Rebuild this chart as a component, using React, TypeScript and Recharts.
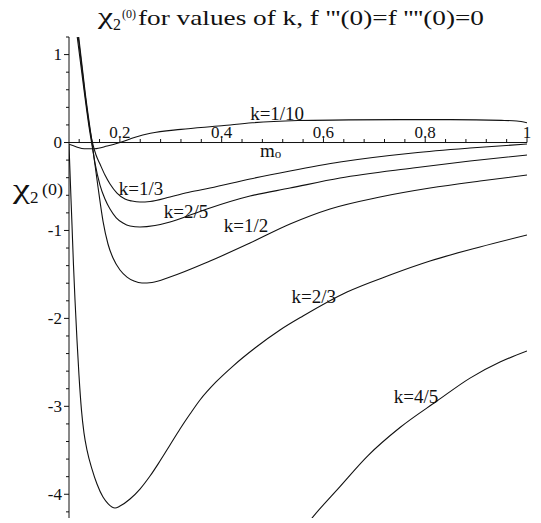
import { LineChart, Line, XAxis, YAxis, ReferenceLine, ReferenceDot } from "recharts";

type Pt = { m: number; y: number };

// chi_2(0) against m0, one list per value of k
const kTenth: Pt[] = [
  { m: 0.1, y: -0.02 }, { m: 0.115, y: -0.05 }, { m: 0.13, y: -0.07 }, { m: 0.15, y: -0.07 },
  { m: 0.175, y: -0.04 }, { m: 0.2, y: 0 }, { m: 0.23, y: 0.06 }, { m: 0.26, y: 0.105 },
  { m: 0.32, y: 0.15 }, { m: 0.4, y: 0.19 }, { m: 0.46, y: 0.225 }, { m: 0.55, y: 0.25 },
  { m: 0.65, y: 0.258 }, { m: 0.75, y: 0.26 }, { m: 0.85, y: 0.26 }, { m: 0.95, y: 0.252 },
  { m: 0.98, y: 0.245 }, { m: 1, y: 0.225 },
];

const kThird: Pt[] = [
  { m: 0.1167, y: 1.268 }, { m: 0.1305, y: 0.597 }, { m: 0.1413, y: 0.142 }, { m: 0.1472, y: -0.028 },
  { m: 0.1531, y: -0.142 }, { m: 0.1609, y: -0.245 }, { m: 0.1707, y: -0.37 }, { m: 0.1806, y: -0.472 },
  { m: 0.1943, y: -0.575 }, { m: 0.21, y: -0.643 }, { m: 0.2238, y: -0.666 }, { m: 0.2395, y: -0.677 },
  { m: 0.2592, y: -0.671 }, { m: 0.2985, y: -0.62 }, { m: 0.3378, y: -0.563 }, { m: 0.3771, y: -0.518 },
  { m: 0.4557, y: -0.415 }, { m: 0.5343, y: -0.324 }, { m: 0.6326, y: -0.222 }, { m: 0.776, y: -0.119 },
  { m: 0.888, y: -0.063 }, { m: 1, y: -0.017 },
];

const kTwoFifths: Pt[] = [
  { m: 0.1147, y: 1.268 }, { m: 0.1295, y: 0.597 }, { m: 0.1403, y: 0.142 }, { m: 0.1462, y: -0.063 },
  { m: 0.1511, y: -0.233 }, { m: 0.1609, y: -0.484 }, { m: 0.1707, y: -0.643 }, { m: 0.1806, y: -0.757 },
  { m: 0.1924, y: -0.853 }, { m: 0.2061, y: -0.916 }, { m: 0.2199, y: -0.95 }, { m: 0.2395, y: -0.961 },
  { m: 0.269, y: -0.944 }, { m: 0.2985, y: -0.904 }, { m: 0.3378, y: -0.825 }, { m: 0.3771, y: -0.745 },
  { m: 0.4557, y: -0.609 }, { m: 0.5343, y: -0.518 }, { m: 0.6326, y: -0.404 }, { m: 0.776, y: -0.29 },
  { m: 0.888, y: -0.21 }, { m: 1, y: -0.142 },
];

const kHalf: Pt[] = [
  { m: 0.1177, y: 1.268 }, { m: 0.1324, y: 0.54 }, { m: 0.1452, y: 0 }, { m: 0.157, y: -0.506 },
  { m: 0.1668, y: -0.893 }, { m: 0.1766, y: -1.154 }, { m: 0.1865, y: -1.314 }, { m: 0.2002, y: -1.45 },
  { m: 0.214, y: -1.53 }, { m: 0.2277, y: -1.575 }, { m: 0.2434, y: -1.598 }, { m: 0.2631, y: -1.592 },
  { m: 0.2985, y: -1.53 }, { m: 0.3771, y: -1.348 }, { m: 0.4557, y: -1.143 }, { m: 0.5343, y: -0.927 },
  { m: 0.6129, y: -0.756 }, { m: 0.7111, y: -0.62 }, { m: 0.8094, y: -0.518 }, { m: 0.9076, y: -0.438 },
  { m: 1, y: -0.37 },
];

const kTwoThirds: Pt[] = [
  { m: 0.1, y: -0.028 }, { m: 0.1029, y: -0.483 }, { m: 0.1059, y: -0.939 }, { m: 0.1088, y: -1.394 },
  { m: 0.1118, y: -1.792 }, { m: 0.1157, y: -2.247 }, { m: 0.1196, y: -2.645 }, { m: 0.1245, y: -3.043 },
  { m: 0.1295, y: -3.305 }, { m: 0.1354, y: -3.498 }, { m: 0.1452, y: -3.714 }, { m: 0.155, y: -3.884 },
  { m: 0.1668, y: -4.032 }, { m: 0.1766, y: -4.106 }, { m: 0.1904, y: -4.157 }, { m: 0.2002, y: -4.134 },
  { m: 0.2199, y: -4.054 }, { m: 0.2395, y: -3.941 }, { m: 0.2592, y: -3.793 }, { m: 0.2788, y: -3.622 },
  { m: 0.2985, y: -3.44 }, { m: 0.3181, y: -3.258 }, { m: 0.3378, y: -3.088 }, { m: 0.3574, y: -2.928 },
  { m: 0.3889, y: -2.723 }, { m: 0.4223, y: -2.542 }, { m: 0.4655, y: -2.337 }, { m: 0.5146, y: -2.132 },
  { m: 0.5598, y: -1.973 }, { m: 0.6463, y: -1.7 }, { m: 0.7308, y: -1.507 }, { m: 0.8094, y: -1.348 },
  { m: 0.9076, y: -1.188 }, { m: 1, y: -1.052 },
];

const kFourFifths: Pt[] = [
  { m: 0.55, y: -4.48 }, { m: 0.5769, y: -4.275 }, { m: 0.6325, y: -3.912 }, { m: 0.6876, y: -3.56 },
  { m: 0.7504, y: -3.241 }, { m: 0.8231, y: -2.94 }, { m: 0.888, y: -2.679 }, { m: 0.9469, y: -2.497 },
  { m: 1, y: -2.37 },
];

const series = [
  { name: "k=1/10", data: kTenth },
  { name: "k=1/3", data: kThird },
  { name: "k=2/5", data: kTwoFifths },
  { name: "k=1/2", data: kHalf },
  { name: "k=2/3", data: kTwoThirds },
  { name: "k=4/5", data: kFourFifths },
];

const xMajorTicks = [0.2, 0.4, 0.6, 0.8, 1];
const xMinorTicks = [
  0.12, 0.16, 0.24, 0.28, 0.32, 0.36, 0.44, 0.48, 0.52, 0.56,
  0.64, 0.68, 0.72, 0.76, 0.84, 0.88, 0.92, 0.96,
];
const yTicks = [
  -4.2, -4, -3.8, -3.6, -3.4, -3.2, -3, -2.8, -2.6, -2.4, -2.2, -2, -1.8, -1.6,
  -1.4, -1.2, -1, -0.8, -0.6, -0.4, -0.2, 0, 0.2, 0.4, 0.6, 0.8, 1, 1.2,
];

// where the k= captions sit, in data units
const curveLabels = [
  { text: "k=1/10", m: 0.509, y: 0.256 },
  { text: "k=1/3", m: 0.2415, y: -0.597 },
  { text: "k=2/5", m: 0.33, y: -0.859 },
  { text: "k=1/2", m: 0.448, y: -1.018 },
  { text: "k=2/3", m: 0.581, y: -1.826 },
  { text: "k=4/5", m: 0.782, y: -2.96 },
];

const SERIF = '"Liberation Serif", "Times New Roman", serif';
const INK = "#111";

function YTick({ x, y, payload }: any) {
  const major = Number.isInteger(payload.value);
  return (
    <g>
      <line x1={x - (major ? 5 : 3)} y1={y} x2={x} y2={y} stroke={INK} />
      {major && (
        <text x={x - 7} y={y} dy="0.34em" textAnchor="end" fontSize={17} fontFamily={SERIF} fill={INK}>
          {payload.value}
        </text>
      )}
    </g>
  );
}

export default function App() {
  return (
    <div style={{ position: "absolute", left: 0, top: 0, width: 541, height: 523, background: "#fff" }}>
      <LineChart width={541} height={523} margin={{ top: 37, right: 14, bottom: 5, left: 0 }}>
        <XAxis type="number" dataKey="m" domain={[0.1, 1]} allowDataOverflow hide />
        <YAxis
          type="number"
          domain={[-4.27, 1.2]}
          ticks={yTicks}
          interval={0}
          allowDataOverflow
          width={69}
          tickSize={0}
          tickMargin={0}
          tickLine={false}
          axisLine={{ stroke: INK }}
          tick={<YTick />}
        />

        {/* Maple-style horizontal axis through y = 0 */}
        <ReferenceLine y={0} stroke={INK} />
        {xMinorTicks.map((t) => (
          <ReferenceLine key={`mn${t}`} segment={[{ x: t, y: 0 }, { x: t, y: 0.04 }]} stroke={INK} />
        ))}
        {xMajorTicks.map((t) => (
          <ReferenceLine key={`mj${t}`} segment={[{ x: t, y: 0 }, { x: t, y: 0.05 }]} stroke={INK} />
        ))}
        {xMajorTicks.map((t) => (
          <ReferenceDot
            key={`lb${t}`}
            x={t}
            y={0}
            shape={(p: any) => (
              <text x={p.cx} y={p.cy - 5} textAnchor="middle" fontSize={17} fontFamily={SERIF} fill={INK}>
                {t}
              </text>
            )}
          />
        ))}
        <ReferenceDot
          x={0.4753}
          y={-0.165}
          shape={(p: any) => (
            <text x={p.cx} y={p.cy} fontSize={19} fontFamily={SERIF} fill={INK}>
              m<tspan fontSize={13} dy={1}>o</tspan>
            </text>
          )}
        />

        {series.map((s) => (
          <Line
            key={s.name}
            name={s.name}
            data={s.data}
            dataKey="y"
            type="monotone"
            stroke={INK}
            strokeWidth={1.1}
            dot={false}
            activeDot={false}
            isAnimationActive={false}
          />
        ))}

        {curveLabels.map((l) => (
          <ReferenceDot
            key={l.text}
            x={l.m}
            y={l.y}
            shape={(p: any) => (
              <text x={p.cx} y={p.cy} textAnchor="middle" fontSize={19} fontFamily={SERIF} fill={INK}>
                {l.text}
              </text>
            )}
          />
        ))}
      </LineChart>

      <svg width={541} height={523} style={{ position: "absolute", left: 0, top: 0, pointerEvents: "none" }}>
        <g fontFamily={SERIF} fill={INK}>
          <text x={98} y={24} fontSize={24} textLength={15} lengthAdjust="spacingAndGlyphs">χ</text>
          <text x={113} y={30} fontSize={16}>2</text>
          <text x={122} y={18} fontSize={12} textLength={14} lengthAdjust="spacingAndGlyphs">(0)</text>
          <text x={138} y={25} fontSize={22} textLength={346} lengthAdjust="spacingAndGlyphs">
            for values of k, f '''(0)=f ''''(0)=0
          </text>

          <text x={13} y={198} fontSize={28} textLength={17} lengthAdjust="spacingAndGlyphs">χ</text>
          <text x={30} y={203} fontSize={17}>2</text>
          <text x={42} y={195} fontSize={16} textLength={21} lengthAdjust="spacingAndGlyphs">(0)</text>
        </g>
      </svg>
    </div>
  );
}
